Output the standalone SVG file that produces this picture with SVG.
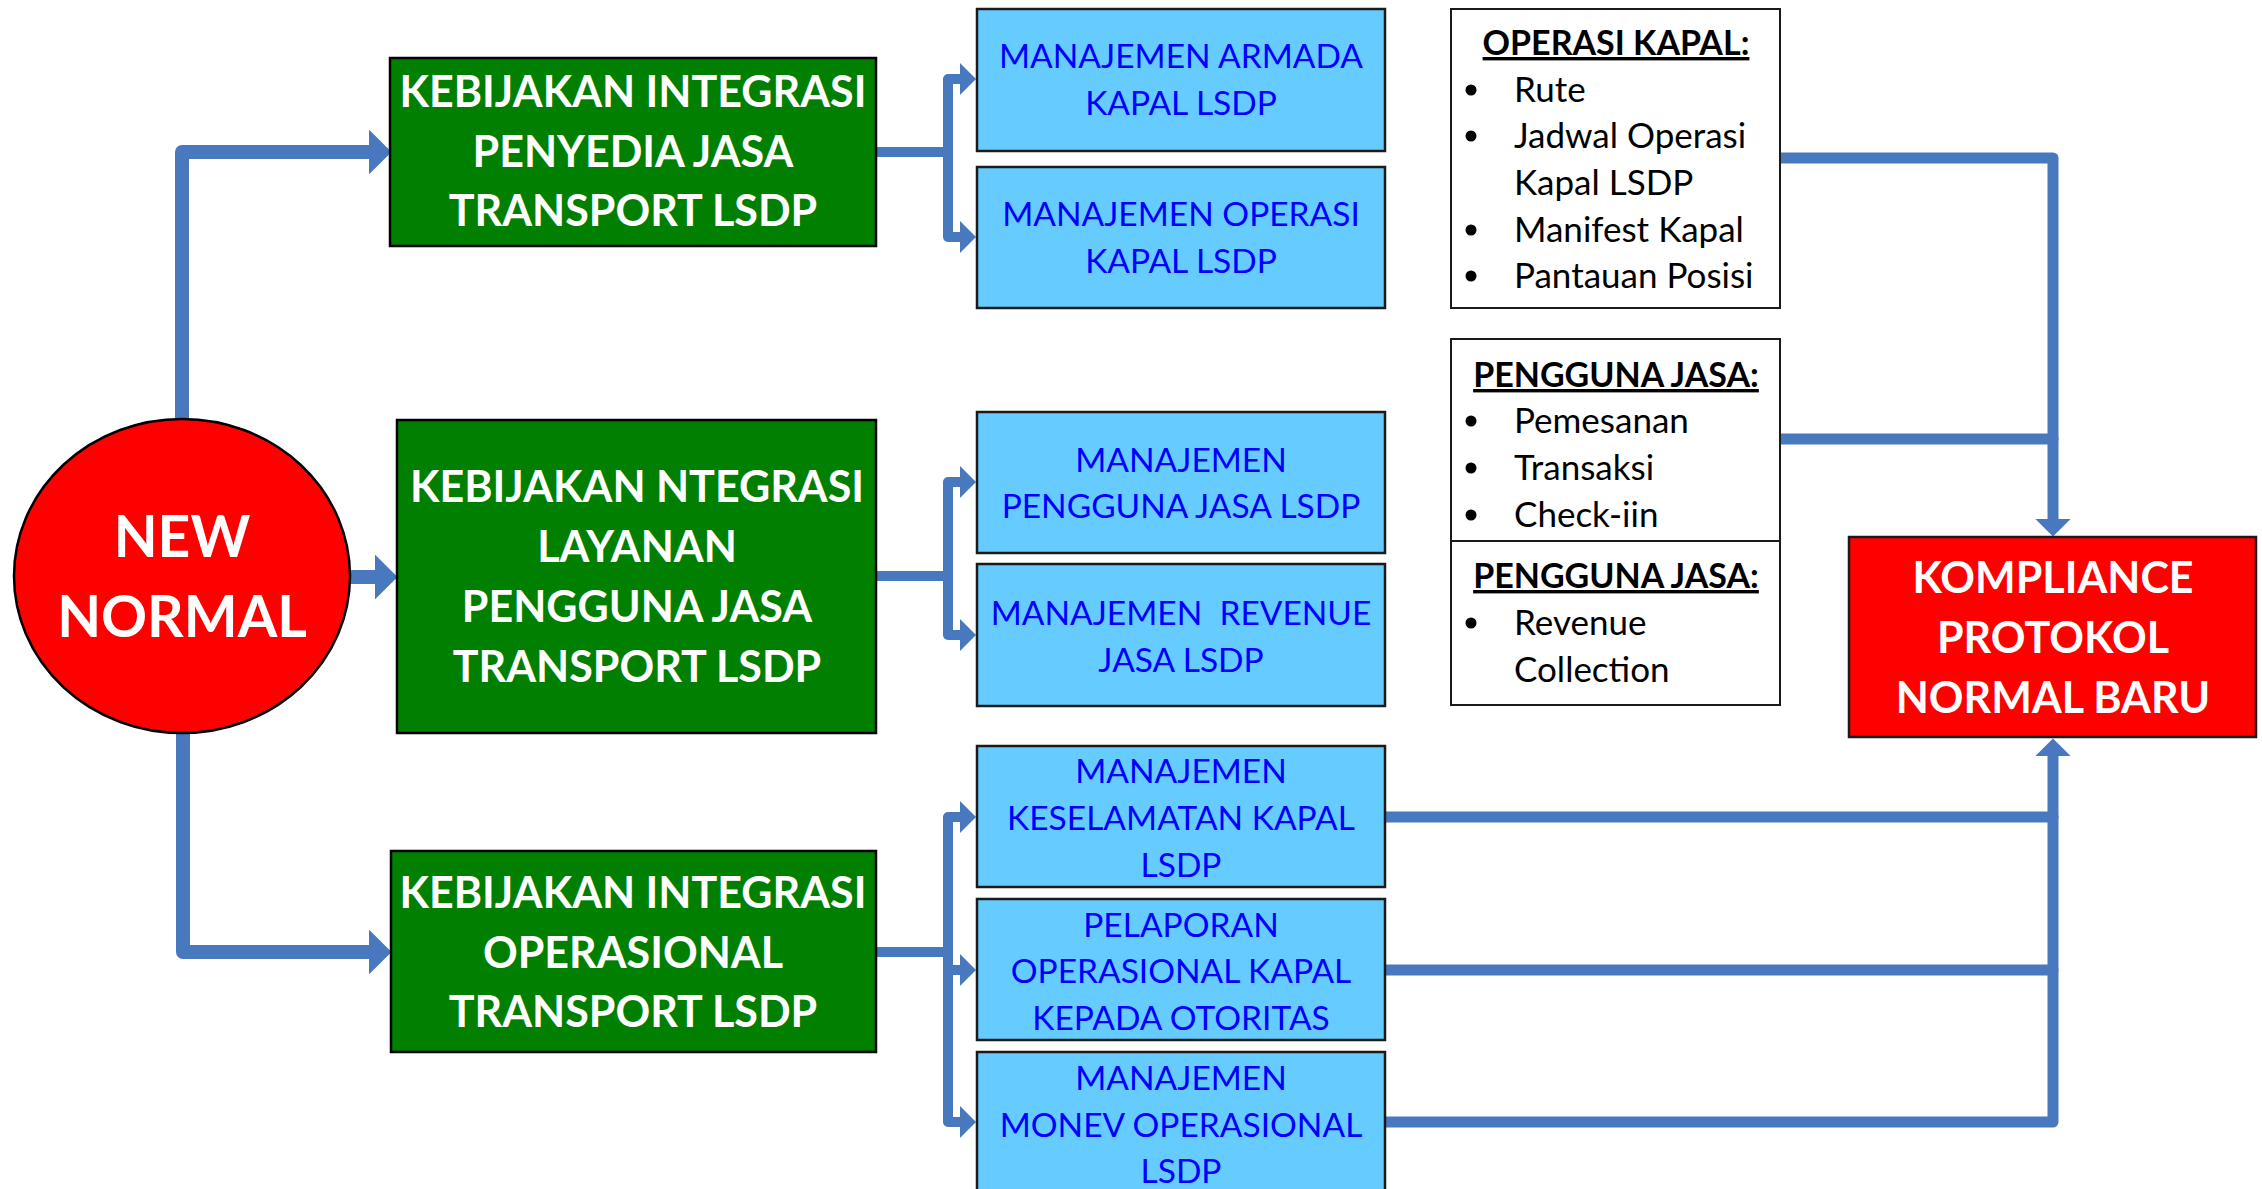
<svg xmlns="http://www.w3.org/2000/svg" width="2262" height="1189" viewBox="0 0 2262 1189">
<defs>
<style>
.grn{fill:#007F00;stroke:#000;stroke-width:2.5}
.blu{fill:#66CCFF;stroke:#1a1a1a;stroke-width:2.5}
.wht{fill:#fff;stroke:#1a1a1a;stroke-width:2}
.red{fill:#FF0000;stroke:#1a1a1a;stroke-width:2.5}
.tw{font-family:Lato,"Open Sans",sans-serif;font-weight:bold;fill:#fff;text-anchor:middle}
.tb{font-family:Lato,"Open Sans",sans-serif;font-size:33.5px;fill:#0000FF;text-anchor:middle}
.tk{font-family:Lato,"Open Sans",sans-serif;font-size:35px;fill:#000}
.th{font-family:Lato,"Open Sans",sans-serif;font-size:34px;font-weight:bold;fill:#000;text-anchor:middle;text-decoration:underline}
.c{fill:none;stroke:#4878BE;stroke-linecap:round;stroke-linejoin:round}
</style>
<marker id="ah" viewBox="0 0 16 32" refX="0" refY="16" markerWidth="1.6" markerHeight="3.2" orient="auto-start-reverse" markerUnits="strokeWidth">
<path d="M0,0 L16,16 L0,32 z" fill="#4878BE"/>
</marker>
</defs>
<rect width="2262" height="1189" fill="#fff"/>

<g id="connectors">
<polyline class="c" stroke-width="14" points="182,420 182,152 369,152" marker-end="url(#ah)"/>
<polyline class="c" stroke-width="14" points="350,577 375,577" marker-end="url(#ah)"/>
<polyline class="c" stroke-width="14" points="183,733 183,952 369,952" marker-end="url(#ah)"/>
<line class="c" stroke-width="10" x1="876" y1="152" x2="948" y2="152"/>
<polyline class="c" stroke-width="10" points="960,79 948,79 948,237 960,237" marker-start="url(#ah)" marker-end="url(#ah)"/>
<line class="c" stroke-width="10" x1="876" y1="576" x2="948" y2="576"/>
<polyline class="c" stroke-width="10" points="960,482 948,482 948,635 960,635" marker-start="url(#ah)" marker-end="url(#ah)"/>
<line class="c" stroke-width="10" x1="876" y1="952" x2="948" y2="952"/>
<polyline class="c" stroke-width="10" points="960,817 948,817 948,1122 960,1122" marker-start="url(#ah)" marker-end="url(#ah)"/>
<polyline class="c" stroke-width="10" points="948,970 960,970" marker-end="url(#ah)"/>
<polyline class="c" stroke-width="11" points="1780,158 2053,158 2053,519" marker-end="url(#ah)"/>
<line class="c" stroke-width="11" x1="1780" y1="439" x2="2053" y2="439"/>
<polyline class="c" stroke-width="11" points="1385,1122 2053,1122 2053,756" marker-end="url(#ah)"/>
<line class="c" stroke-width="11" x1="1385" y1="817" x2="2053" y2="817"/>
<line class="c" stroke-width="11" x1="1385" y1="970" x2="2053" y2="970"/>
</g>

<g id="new-normal">
<ellipse cx="182" cy="576" rx="168" ry="157" fill="#FF0000" stroke="#000" stroke-width="2.5"/>
<text class="tw" font-size="57" x="182" y="557">NEW</text>
<text class="tw" font-size="57" x="182" y="637">NORMAL</text>
</g>

<g id="kebijakan-penyedia">
<rect class="grn" x="390" y="58" width="486" height="188"/>
<text class="tw" font-size="43" x="633" y="107">KEBIJAKAN INTEGRASI</text>
<text class="tw" font-size="43" x="633" y="167">PENYEDIA JASA</text>
<text class="tw" font-size="43" x="633" y="226">TRANSPORT LSDP</text>
</g>

<g id="kebijakan-layanan">
<rect class="grn" x="397" y="420" width="479" height="313"/>
<text class="tw" font-size="43" x="637" y="502">KEBIJAKAN NTEGRASI</text>
<text class="tw" font-size="43" x="637" y="562">LAYANAN</text>
<text class="tw" font-size="43" x="637" y="622">PENGGUNA JASA</text>
<text class="tw" font-size="43" x="637" y="682">TRANSPORT LSDP</text>
</g>

<g id="kebijakan-operasional">
<rect class="grn" x="391" y="851" width="485" height="201"/>
<text class="tw" font-size="43" x="633" y="908">KEBIJAKAN INTEGRASI</text>
<text class="tw" font-size="43" x="633" y="968">OPERASIONAL</text>
<text class="tw" font-size="43" x="633" y="1027">TRANSPORT LSDP</text>
</g>

<g id="armada">
<rect class="blu" x="977" y="9" width="408" height="142"/>
<text class="tb" x="1181" y="68">MANAJEMEN ARMADA</text>
<text class="tb" x="1181" y="115">KAPAL LSDP</text>
</g>
<g id="operasi">
<rect class="blu" x="977" y="167" width="408" height="141"/>
<text class="tb" x="1181" y="226">MANAJEMEN OPERASI</text>
<text class="tb" x="1181" y="273">KAPAL LSDP</text>
</g>
<g id="pengguna">
<rect class="blu" x="977" y="412" width="408" height="141"/>
<text class="tb" x="1181" y="472">MANAJEMEN</text>
<text class="tb" x="1181" y="518">PENGGUNA JASA LSDP</text>
</g>
<g id="revenue">
<rect class="blu" x="977" y="564" width="408" height="142"/>
<text class="tb" x="1181" y="625" xml:space="preserve">MANAJEMEN  REVENUE</text>
<text class="tb" x="1181" y="672">JASA LSDP</text>
</g>
<g id="keselamatan">
<rect class="blu" x="977" y="746" width="408" height="141"/>
<text class="tb" x="1181" y="783">MANAJEMEN</text>
<text class="tb" x="1181" y="830">KESELAMATAN KAPAL</text>
<text class="tb" x="1181" y="877">LSDP</text>
</g>
<g id="pelaporan">
<rect class="blu" x="977" y="899" width="408" height="141"/>
<text class="tb" x="1181" y="937">PELAPORAN</text>
<text class="tb" x="1181" y="983">OPERASIONAL KAPAL</text>
<text class="tb" x="1181" y="1030">KEPADA OTORITAS</text>
</g>
<g id="monev">
<rect class="blu" x="977" y="1052" width="408" height="145"/>
<text class="tb" x="1181" y="1090">MANAJEMEN</text>
<text class="tb" x="1181" y="1137">MONEV OPERASIONAL</text>
<text class="tb" x="1181" y="1183">LSDP</text>
</g>

<g id="operasi-kapal">
<rect class="wht" x="1451" y="9" width="329" height="299"/>
<text class="th" x="1616" y="55">OPERASI KAPAL:</text>
<circle cx="1471" cy="90" r="5.5"/><text class="tk" x="1514" y="102">Rute</text>
<circle cx="1471" cy="136" r="5.5"/><text class="tk" x="1514" y="148">Jadwal Operasi</text>
<text class="tk" x="1514" y="195">Kapal LSDP</text>
<circle cx="1471" cy="230" r="5.5"/><text class="tk" x="1514" y="242">Manifest Kapal</text>
<circle cx="1471" cy="276" r="5.5"/><text class="tk" x="1514" y="288">Pantauan Posisi</text>
</g>
<g id="pengguna-jasa-1">
<rect class="wht" x="1451" y="339" width="329" height="202"/>
<text class="th" x="1616" y="387">PENGGUNA JASA:</text>
<circle cx="1471" cy="421" r="5.5"/><text class="tk" x="1514" y="433">Pemesanan</text>
<circle cx="1471" cy="468" r="5.5"/><text class="tk" x="1514" y="480">Transaksi</text>
<circle cx="1471" cy="515" r="5.5"/><text class="tk" x="1514" y="527">Check-iin</text>
</g>
<g id="pengguna-jasa-2">
<rect class="wht" x="1451" y="541" width="329" height="164"/>
<text class="th" x="1616" y="588">PENGGUNA JASA:</text>
<circle cx="1471" cy="623" r="5.5"/><text class="tk" x="1514" y="635">Revenue</text>
<text class="tk" x="1514" y="682">Collection</text>
</g>

<g id="kompliance">
<rect class="red" x="1849" y="537" width="407" height="200"/>
<text class="tw" font-size="43" x="2053" y="593">KOMPLIANCE</text>
<text class="tw" font-size="43" x="2053" y="653">PROTOKOL</text>
<text class="tw" font-size="43" x="2053" y="713">NORMAL BARU</text>
</g>
</svg>
